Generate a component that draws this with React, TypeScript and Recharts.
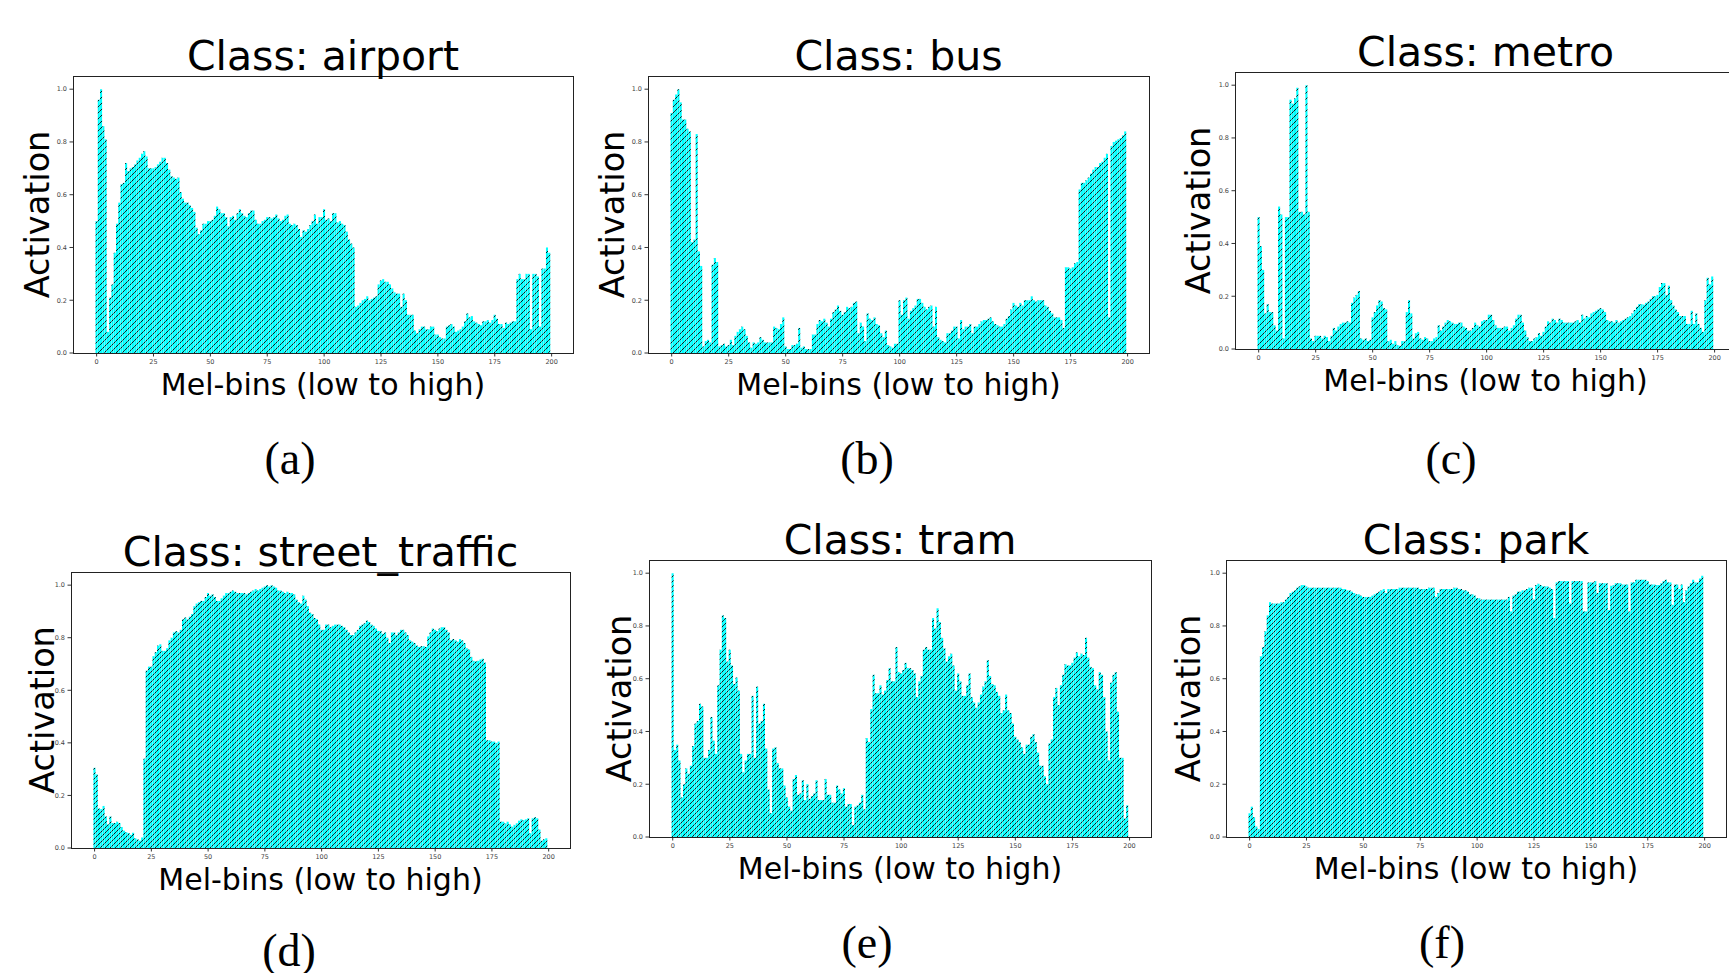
import { Bar, BarChart, XAxis, YAxis } from "recharts";

// Mel-bin indices 0..199 and the tick marks matplotlib put on both axes.
const BINS = Array.from({ length: 200 }, (_, i) => i);
const X_TICKS = [0, 25, 50, 75, 100, 125, 150, 175, 200];
const Y_TICKS = [0, 0.2, 0.4, 0.6, 0.8, 1.0];

// Activation per mel-bin.
const airportValues = [
  0.5, 0.96, 1.0, 0.86, 0.81, 0.08, 0.21, 0.26, 0.38, 0.49,
  0.57, 0.64, 0.645, 0.72, 0.69, 0.7, 0.705, 0.715, 0.73, 0.74,
  0.755, 0.765, 0.745, 0.7, 0.7, 0.7, 0.705, 0.715, 0.725, 0.74,
  0.74, 0.72, 0.695, 0.67, 0.665, 0.66, 0.665, 0.61, 0.585, 0.57,
  0.57, 0.56, 0.55, 0.535, 0.475, 0.45, 0.465, 0.49, 0.49, 0.5,
  0.5, 0.505, 0.52, 0.555, 0.545, 0.53, 0.53, 0.515, 0.48, 0.515,
  0.52, 0.505, 0.53, 0.545, 0.53, 0.52, 0.515, 0.53, 0.54, 0.54,
  0.505, 0.49, 0.49, 0.5, 0.505, 0.515, 0.515, 0.51, 0.515, 0.525,
  0.51, 0.5, 0.505, 0.52, 0.525, 0.49, 0.485, 0.49, 0.485, 0.47,
  0.44, 0.465, 0.46, 0.47, 0.485, 0.5, 0.525, 0.49, 0.515, 0.515,
  0.545, 0.505, 0.51, 0.5, 0.53, 0.53, 0.495, 0.5, 0.49, 0.485,
  0.46, 0.43, 0.415, 0.4, 0.175, 0.18, 0.19, 0.2, 0.205, 0.215,
  0.2, 0.205, 0.21, 0.215, 0.26, 0.275, 0.28, 0.27, 0.27, 0.26,
  0.245, 0.23, 0.225, 0.225, 0.175, 0.225, 0.2, 0.145, 0.145, 0.145,
  0.085, 0.075, 0.09, 0.1, 0.1, 0.09, 0.09, 0.1, 0.1, 0.07,
  0.07, 0.06, 0.055, 0.055, 0.1, 0.105, 0.11, 0.1, 0.08, 0.085,
  0.09, 0.1, 0.12, 0.15, 0.135, 0.14, 0.12, 0.115, 0.11, 0.105,
  0.12, 0.12, 0.125, 0.115, 0.125, 0.145, 0.13, 0.11, 0.11, 0.095,
  0.115, 0.11, 0.115, 0.12, 0.12, 0.28, 0.3, 0.28, 0.28, 0.3,
  0.3, 0.09, 0.3, 0.3, 0.29, 0.1, 0.32, 0.32, 0.4, 0.38,
];

const busValues = [
  0.91, 0.96, 0.98, 1.0, 0.95, 0.885, 0.885, 0.85, 0.84, 0.42,
  0.43, 0.83, 0.385, 0.33, 0.025, 0.045, 0.05, 0.04, 0.335, 0.36,
  0.345, 0.025, 0.03, 0.035, 0.025, 0.03, 0.05, 0.03, 0.065, 0.08,
  0.09, 0.1, 0.09, 0.065, 0.04, 0.02, 0.04, 0.035, 0.04, 0.06,
  0.05, 0.04, 0.04, 0.04, 0.04, 0.1, 0.095, 0.09, 0.11, 0.135,
  0.025, 0.015, 0.015, 0.03, 0.03, 0.035, 0.095, 0.02, 0.025, 0.015,
  0.015, 0.015, 0.07, 0.07, 0.11, 0.125, 0.12, 0.13, 0.115, 0.1,
  0.13, 0.155, 0.165, 0.18, 0.16, 0.145, 0.155, 0.175, 0.17, 0.175,
  0.19, 0.195, 0.075, 0.115, 0.1, 0.045, 0.15, 0.13, 0.125, 0.135,
  0.11, 0.105, 0.075, 0.06, 0.085, 0.03, 0.025, 0.02, 0.035, 0.035,
  0.2, 0.145, 0.2, 0.21, 0.13, 0.16, 0.17, 0.18, 0.205, 0.205,
  0.19, 0.175, 0.165, 0.175, 0.18, 0.1, 0.175, 0.06, 0.05, 0.045,
  0.04, 0.075, 0.075, 0.085, 0.1, 0.1, 0.055, 0.125, 0.09, 0.1,
  0.1, 0.11, 0.075, 0.1, 0.1, 0.11, 0.12, 0.125, 0.125, 0.13,
  0.135, 0.12, 0.11, 0.105, 0.1, 0.1, 0.11, 0.13, 0.14, 0.165,
  0.19, 0.18, 0.175, 0.19, 0.18, 0.2, 0.2, 0.2, 0.215, 0.2,
  0.195, 0.2, 0.2, 0.2, 0.18, 0.175, 0.16, 0.15, 0.135, 0.135,
  0.135, 0.125, 0.095, 0.325, 0.325, 0.32, 0.325, 0.34, 0.345, 0.62,
  0.645, 0.645, 0.655, 0.665, 0.68, 0.695, 0.705, 0.705, 0.72, 0.725,
  0.74, 0.755, 0.135, 0.785, 0.8, 0.805, 0.81, 0.815, 0.825, 0.84,
];

const metroValues = [
  0.5, 0.39, 0.3, 0.135, 0.17, 0.14, 0.14, 0.09, 0.07, 0.54,
  0.51, 0.04, 0.5, 0.5, 0.945, 0.93, 0.95, 0.99, 0.52, 0.52,
  0.51, 1.0, 0.52, 0.04, 0.03, 0.05, 0.05, 0.05, 0.04, 0.05,
  0.045, 0.03, 0.05, 0.08, 0.07, 0.085, 0.095, 0.1, 0.1, 0.105,
  0.1, 0.175, 0.195, 0.205, 0.22, 0.04, 0.035, 0.04, 0.03, 0.035,
  0.12, 0.14, 0.165, 0.185, 0.18, 0.155, 0.15, 0.03, 0.035, 0.02,
  0.03, 0.015, 0.012, 0.03, 0.03, 0.14, 0.185, 0.135, 0.04, 0.06,
  0.065, 0.04, 0.035, 0.045, 0.04, 0.03, 0.03, 0.04, 0.045, 0.09,
  0.07, 0.085, 0.1, 0.11, 0.105, 0.1, 0.095, 0.095, 0.1, 0.1,
  0.085, 0.08, 0.07, 0.07, 0.08, 0.1, 0.09, 0.085, 0.105, 0.11,
  0.11, 0.13, 0.13, 0.11, 0.09, 0.08, 0.08, 0.08, 0.085, 0.085,
  0.07, 0.08, 0.09, 0.115, 0.13, 0.13, 0.1, 0.07, 0.045, 0.03,
  0.03, 0.04, 0.045, 0.06, 0.05, 0.065, 0.085, 0.105, 0.1, 0.115,
  0.11, 0.1, 0.115, 0.11, 0.1, 0.1, 0.1, 0.1, 0.1, 0.105,
  0.11, 0.1, 0.13, 0.115, 0.125, 0.12, 0.135, 0.14, 0.145, 0.15,
  0.155, 0.15, 0.14, 0.11, 0.105, 0.105, 0.1, 0.11, 0.1, 0.105,
  0.11, 0.115, 0.12, 0.125, 0.135, 0.148, 0.16, 0.17, 0.17, 0.168,
  0.175, 0.18, 0.19, 0.2, 0.2, 0.205, 0.235, 0.25, 0.25, 0.205,
  0.24, 0.185, 0.165, 0.15, 0.14, 0.125, 0.125, 0.125, 0.095, 0.095,
  0.145, 0.095, 0.135, 0.095, 0.08, 0.065, 0.185, 0.27, 0.245, 0.275,
];

const streetTrafficValues = [
  0.305, 0.28, 0.15, 0.148, 0.16, 0.12, 0.09, 0.12, 0.095, 0.095,
  0.1, 0.095, 0.08, 0.066, 0.06, 0.057, 0.05, 0.058, 0.037, 0.033,
  0.028, 0.04, 0.34, 0.675, 0.69, 0.69, 0.73, 0.745, 0.77, 0.775,
  0.75, 0.75, 0.76, 0.79, 0.8, 0.82, 0.825, 0.82, 0.83, 0.87,
  0.877, 0.87, 0.88, 0.89, 0.92, 0.93, 0.935, 0.94, 0.94, 0.955,
  0.97, 0.96, 0.965, 0.955, 0.94, 0.94, 0.95, 0.96, 0.97, 0.97,
  0.975, 0.98, 0.975, 0.97, 0.97, 0.97, 0.97, 0.965, 0.97, 0.975,
  0.98, 0.985, 0.98, 0.985, 0.99, 0.995, 1.0, 0.995, 1.0, 0.995,
  0.99, 0.98, 0.98, 0.975, 0.97, 0.975, 0.97, 0.97, 0.965, 0.945,
  0.935, 0.93, 0.96, 0.945, 0.92, 0.895, 0.89, 0.875, 0.87, 0.85,
  0.83, 0.83, 0.85, 0.85, 0.84, 0.845, 0.85, 0.85, 0.85, 0.845,
  0.84, 0.83, 0.82, 0.81, 0.81, 0.82, 0.83, 0.845, 0.85, 0.855,
  0.865, 0.86, 0.85, 0.845, 0.835, 0.826, 0.826, 0.815, 0.82, 0.8,
  0.78, 0.82, 0.82, 0.81, 0.82, 0.83, 0.83, 0.82, 0.81, 0.79,
  0.785, 0.78, 0.77, 0.765, 0.768, 0.768, 0.765, 0.805, 0.82, 0.835,
  0.83, 0.825, 0.835, 0.84, 0.84, 0.83, 0.82, 0.79, 0.795, 0.79,
  0.785, 0.795, 0.79, 0.78, 0.76, 0.755, 0.727, 0.712, 0.71, 0.712,
  0.717, 0.72, 0.705, 0.41, 0.41, 0.405, 0.405, 0.4, 0.405, 0.1,
  0.1, 0.094, 0.1, 0.09, 0.081, 0.088, 0.094, 0.104, 0.109, 0.106,
  0.109, 0.113, 0.056, 0.113, 0.117, 0.113, 0.07, 0.028, 0.033, 0.037,
];

const tramValues = [
  1.0, 0.33, 0.35, 0.29, 0.15, 0.2, 0.26, 0.24, 0.27, 0.345,
  0.43, 0.44, 0.505, 0.495, 0.3, 0.3, 0.33, 0.455, 0.365, 0.315,
  0.575, 0.71, 0.84, 0.83, 0.665, 0.71, 0.65, 0.58, 0.605, 0.555,
  0.315, 0.245, 0.29, 0.315, 0.315, 0.535, 0.3, 0.57, 0.43, 0.44,
  0.505, 0.335, 0.18, 0.09, 0.335, 0.34, 0.28, 0.26, 0.26, 0.195,
  0.15, 0.115, 0.1, 0.22, 0.235, 0.16, 0.165, 0.215, 0.14, 0.2,
  0.145, 0.155, 0.165, 0.215, 0.14, 0.14, 0.14, 0.22, 0.16, 0.16,
  0.13, 0.13, 0.195, 0.18, 0.165, 0.185, 0.115, 0.125, 0.125, 0.045,
  0.115, 0.12, 0.13, 0.16, 0.105, 0.375, 0.36, 0.485, 0.615, 0.545,
  0.545, 0.575, 0.54, 0.555, 0.595, 0.64, 0.59, 0.59, 0.72, 0.625,
  0.62, 0.633, 0.66, 0.64, 0.64, 0.633, 0.62, 0.53, 0.59, 0.61,
  0.71, 0.72, 0.71, 0.71, 0.83, 0.79, 0.867, 0.815, 0.755, 0.715,
  0.665, 0.685, 0.695, 0.65, 0.555, 0.62, 0.59, 0.535, 0.535, 0.575,
  0.62, 0.53, 0.51, 0.49, 0.51, 0.54, 0.57, 0.59, 0.67, 0.61,
  0.58, 0.575, 0.55, 0.535, 0.47, 0.48, 0.54, 0.48, 0.47, 0.43,
  0.38, 0.37, 0.36, 0.34, 0.315, 0.35, 0.35, 0.38, 0.39, 0.36,
  0.32, 0.27, 0.27, 0.23, 0.2, 0.355, 0.37, 0.53, 0.565, 0.5,
  0.575, 0.615, 0.655, 0.65, 0.65, 0.66, 0.68, 0.7, 0.685, 0.695,
  0.69, 0.755, 0.68, 0.645, 0.64, 0.575, 0.56, 0.625, 0.615, 0.53,
  0.4, 0.29, 0.585, 0.615, 0.625, 0.475, 0.3, 0.3, 0.07, 0.12,
];

const parkValues = [
  0.09, 0.115, 0.075, 0.04, 0.03, 0.685, 0.72, 0.78, 0.84, 0.89,
  0.885, 0.885, 0.885, 0.885, 0.89, 0.89, 0.9, 0.91, 0.925, 0.93,
  0.935, 0.945, 0.95, 0.955, 0.955, 0.95, 0.945, 0.945, 0.945, 0.945,
  0.945, 0.945, 0.945, 0.945, 0.945, 0.945, 0.945, 0.945, 0.945, 0.945,
  0.945, 0.94, 0.94, 0.935, 0.935, 0.93, 0.925, 0.92, 0.92, 0.915,
  0.91, 0.91, 0.91, 0.91, 0.915, 0.92, 0.925, 0.93, 0.935, 0.94,
  0.925, 0.94, 0.94, 0.94, 0.94, 0.94, 0.945, 0.945, 0.945, 0.945,
  0.945, 0.945, 0.945, 0.945, 0.945, 0.94, 0.94, 0.94, 0.94, 0.945,
  0.945, 0.945, 0.91, 0.925, 0.94, 0.94, 0.94, 0.94, 0.94, 0.94,
  0.945, 0.945, 0.94, 0.94, 0.935, 0.935, 0.93, 0.92, 0.92, 0.915,
  0.905, 0.905, 0.9, 0.9, 0.9, 0.9, 0.9, 0.9, 0.9, 0.9,
  0.9, 0.9, 0.9, 0.9, 0.91, 0.855, 0.915, 0.92, 0.93, 0.93,
  0.935, 0.935, 0.94, 0.945, 0.945, 0.9, 0.955, 0.96, 0.955, 0.95,
  0.95, 0.95, 0.945, 0.94, 0.83, 0.965, 0.97, 0.97, 0.97, 0.97,
  0.97, 0.885, 0.97, 0.97, 0.97, 0.97, 0.97, 0.855, 0.855, 0.965,
  0.965, 0.965, 0.97, 0.925, 0.962, 0.962, 0.962, 0.962, 0.86, 0.952,
  0.955, 0.962, 0.962, 0.962, 0.957, 0.957, 0.957, 0.855, 0.965, 0.965,
  0.975, 0.975, 0.975, 0.975, 0.975, 0.97, 0.957, 0.957, 0.957, 0.955,
  0.955, 0.962, 0.97, 0.975, 0.965, 0.965, 0.88, 0.957, 0.957, 0.94,
  0.957, 0.89, 0.935, 0.95, 0.962, 0.975, 0.965, 0.965, 0.98, 0.99,
];

type Panel = {
  key: string;
  title: string;
  caption: string;
  values: number[];
  left: number;
  top: number;
  width: number;
  height: number;
  hatch: number;
  ylabelGap: number;
  captionX: number;
  captionY: number;
};

// Frame boxes (each panel was a separate figure).
const PANELS: Panel[] = [
  { key: "a", title: "Class: airport", caption: "(a)", values: airportValues, left: 73, top: 76, width: 500, height: 277, hatch: 6, ylabelGap: 24, captionX: 290, captionY: 474 },
  { key: "b", title: "Class: bus", caption: "(b)", values: busValues, left: 648, top: 76, width: 501, height: 277, hatch: 6, ylabelGap: 24.5, captionX: 867, captionY: 474 },
  { key: "c", title: "Class: metro", caption: "(c)", values: metroValues, left: 1235, top: 72, width: 501, height: 277, hatch: 6, ylabelGap: 25.5, captionX: 1451, captionY: 474 },
  { key: "d", title: "Class: street_traffic", caption: "(d)", values: streetTrafficValues, left: 71, top: 572, width: 499, height: 276, hatch: 5, ylabelGap: 17.5, captionX: 289, captionY: 966 },
  { key: "e", title: "Class: tram", caption: "(e)", values: tramValues, left: 649, top: 560, width: 502, height: 277, hatch: 5, ylabelGap: 18, captionX: 867, captionY: 958 },
  { key: "f", title: "Class: park", caption: "(f)", values: parkValues, left: 1226, top: 560, width: 500, height: 277, hatch: 5, ylabelGap: 26, captionX: 1442, captionY: 958 },
];

const AXIS_W = 40;
const AXIS_H = 30;
const SANS = "DejaVu Sans";
const TICK_STYLE = { fontSize: 6.5, fill: "#444", fontFamily: SANS };

function ActivationPanel({ panel }: { panel: Panel }) {
  const data = BINS.map((bin, i) => ({ bin, value: panel.values[i] }));
  const s = panel.hatch;
  const hatchPath = `M${-s / 2},${s / 2} L${s / 2},${-s / 2} M0,${s} L${s},0 M${s / 2},${s * 1.5} L${s * 1.5},${s / 2}`;

  return (
    <div style={{ position: "absolute", left: panel.left - AXIS_W, top: panel.top }}>
      <BarChart
        width={panel.width + AXIS_W}
        height={panel.height + AXIS_H}
        data={data}
        margin={{ top: 0, right: 0, bottom: 0, left: 0 }}
        barCategoryGap={0}
        barGap={0}
      >
        <defs>
          <pattern id={`hatch-${panel.key}`} patternUnits="userSpaceOnUse" width={s} height={s}>
            <rect width={s} height={s} fill="#00ffff" />
            <path d={hatchPath} stroke="#0a1c1c" strokeWidth={1} />
          </pattern>
        </defs>
        <XAxis
          type="number"
          dataKey="bin"
          domain={[-10.39, 209.39]}
          ticks={X_TICKS}
          interval={0}
          allowDataOverflow
          height={AXIS_H}
          axisLine={false}
          tickSize={3.5}
          tickMargin={3}
          tickLine={{ stroke: "#333" }}
          tick={TICK_STYLE}
        />
        <YAxis
          type="number"
          domain={[0, 1.05]}
          ticks={Y_TICKS}
          interval={0}
          allowDataOverflow
          width={AXIS_W}
          axisLine={false}
          tickSize={3.5}
          tickMargin={2.5}
          tickLine={{ stroke: "#333" }}
          tick={TICK_STYLE}
          tickFormatter={(v: number) => v.toFixed(1)}
        />
        <Bar dataKey="value" fill={`url(#hatch-${panel.key})`} barSize={3} isAnimationActive={false} />
      </BarChart>
    </div>
  );
}

export default function App() {
  return (
    <div style={{ position: "absolute", left: 0, top: 0, width: 1729, height: 973, overflow: "hidden", background: "#fff" }}>
      {PANELS.map((p) => (
        <ActivationPanel key={p.key} panel={p} />
      ))}
      <svg width={1729} height={973} style={{ position: "absolute", left: 0, top: 0, pointerEvents: "none" }}>
        {PANELS.map((p) => {
          const cx = p.left + p.width / 2;
          return (
            <g key={p.key}>
              <rect x={p.left + 0.5} y={p.top + 0.5} width={p.width} height={p.height} fill="none" stroke="#222" strokeWidth={1} />
              <text x={cx} y={p.top - 6.5} textAnchor="middle" fontSize={41} fontFamily={SANS} fill="#000">
                {p.title}
              </text>
              <text x={cx} y={p.top + p.height + 42} textAnchor="middle" fontSize={30} fontFamily={SANS} fill="#000">
                Mel-bins (low to high)
              </text>
              <text
                transform={`translate(${p.left - p.ylabelGap}, ${p.top + p.height / 2}) rotate(-90)`}
                textAnchor="middle"
                fontSize={33.5}
                fontFamily={SANS}
                fill="#000"
              >
                Activation
              </text>
              <text x={p.captionX} y={p.captionY} textAnchor="middle" fontSize={46} fontFamily="Liberation Serif" fill="#000">
                {p.caption}
              </text>
            </g>
          );
        })}
      </svg>
    </div>
  );
}
